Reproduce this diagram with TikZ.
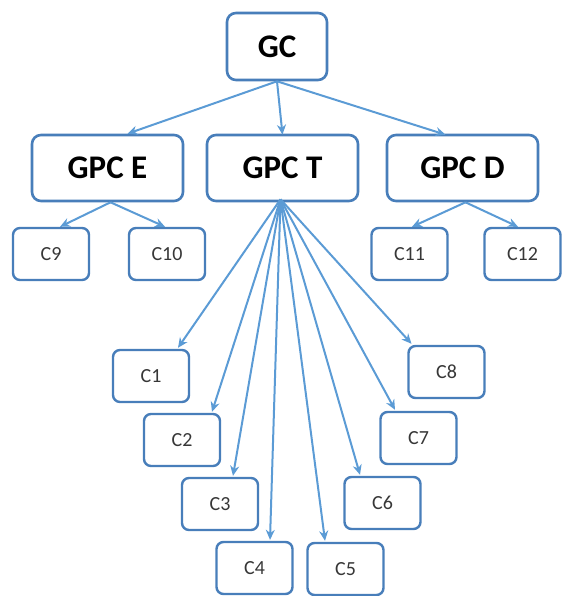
\documentclass[tikz,border=0pt]{standalone}
\usepackage{fontspec}
\setmainfont{Carlito}
\usetikzlibrary{arrows.meta}
\definecolor{boxblue}{RGB}{72,126,186}
\definecolor{arrblue}{RGB}{91,155,213}
\definecolor{txtgray}{RGB}{55,55,55}
\begin{document}
\begin{tikzpicture}[x=1pt,y=-1pt,
  bigbox/.style={draw=boxblue,line width=2.6pt,rounded corners=9pt,fill=white,inner sep=0pt,
    font=\fontsize{33}{36}\selectfont\bfseries,text=black},
  smallbox/.style={draw=boxblue,line width=2.4pt,rounded corners=7pt,fill=white,inner sep=0pt,
    minimum width=76pt,minimum height=52pt,font=\fontsize{20}{22}\selectfont,text=txtgray},
  conn/.style={draw=arrblue,line width=2pt,-{Stealth[length=10pt,width=9pt]}}]
\useasboundingbox (0,0) rectangle (562,596);
% top-level nodes
\node[bigbox,minimum width=100pt,minimum height=67pt] (gc) at (277,46.5) {GC};
\node[bigbox,minimum width=151pt,minimum height=66pt] (gpce) at (107.5,168) {GPC E};
\node[bigbox,minimum width=151pt,minimum height=66pt] (gpct) at (282.5,168) {GPC T};
\node[bigbox,minimum width=151pt,minimum height=66pt] (gpcd) at (462.5,168) {GPC D};
% small nodes
\node[smallbox] (c9) at (51,254) {C9};
\node[smallbox] (c10) at (167,254) {C10};
\node[smallbox] (c11) at (409.5,254) {C11};
\node[smallbox] (c12) at (522.5,254) {C12};
\node[smallbox] (c1) at (151,376) {C1};
\node[smallbox] (c2) at (182,440) {C2};
\node[smallbox] (c3) at (220,504) {C3};
\node[smallbox] (c4) at (254.5,568) {C4};
\node[smallbox] (c5) at (345.5,569) {C5};
\node[smallbox] (c6) at (382.5,503) {C6};
\node[smallbox] (c7) at (418.5,438) {C7};
\node[smallbox] (c8) at (446.5,372) {C8};
% connectors
\draw[conn] (gc.south) -- ([xshift=20pt]gpce.north);
\draw[conn] (gc.south) -- ([yshift=-1pt]gpct.north);
\draw[conn] (gc.south) -- ([xshift=-17pt,yshift=-1pt]gpcd.north);
\draw[conn] ([xshift=3pt]gpce.south) -- ([xshift=9pt]c9.north);
\draw[conn] ([xshift=3pt]gpce.south) -- ([xshift=-2pt]c10.north);
\draw[conn] ([xshift=3pt]gpcd.south) -- ([xshift=2.5pt]c11.north);
\draw[conn] ([xshift=3pt]gpcd.south) -- ([xshift=-4.5pt]c12.north);
\coordinate (fan) at ([xshift=-2pt,yshift=3pt]gpct.south);
\draw[conn] (fan) -- ([xshift=27pt,yshift=1pt]c1.north);
\draw[conn] (fan) -- ([xshift=30pt,yshift=1pt]c2.north);
\draw[conn] (fan) -- ([xshift=13pt,yshift=1pt]c3.north);
\draw[conn] (fan) -- ([xshift=15.5pt,yshift=1pt]c4.north);
\draw[conn] (fan) -- ([xshift=-20.5pt,yshift=1pt]c5.north);
\draw[conn] (fan) -- ([xshift=-22.5pt,yshift=1pt]c6.north);
\draw[conn] (fan) -- ([xshift=-23.5pt,yshift=1pt]c7.north);
\draw[conn] (fan) -- ([xshift=-35pt,yshift=1pt]c8.north);
\end{tikzpicture}
\end{document}
